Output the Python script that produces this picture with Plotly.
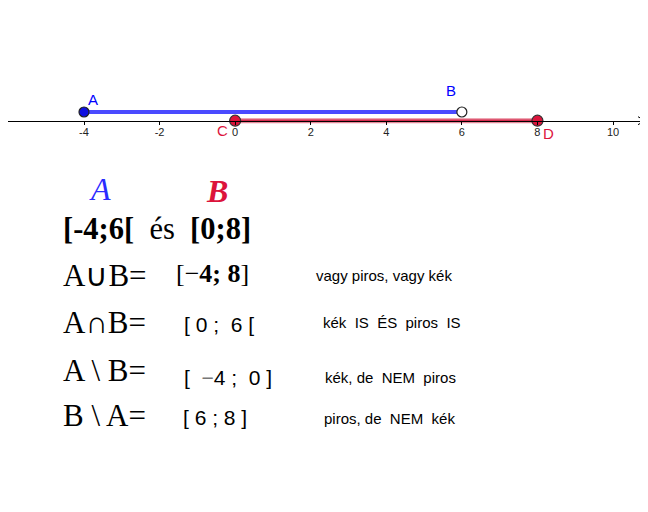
import plotly.graph_objects as go

# number line data
set_a = [-4, 6]          # [-4;6[  (blue)
set_b = [0, 8]           # [0;8]   (red)
point_names_a = ["A", "B"]
point_names_b = ["C", "D"]
tick_vals = [-4, -2, 0, 2, 4, 6, 8, 10]
tick_text = ["-4", "-2", "0", "2", "4", "6", "8", "10"]

# text rows below the line
row_left = ["A∪B=", "A∩B=", "A \\ B=", "B \\ A="]
row_result = ["[−<b>4; 8</b>]",
              "[ 0 ;\u00a0 6 [",
              "[\u00a0 <span style='color:#777'>−</span>4 ;\u00a0 0 ]",
              "[ 6 ; 8 ]"]
row_note = ["vagy piros, vagy kék",
            "kék\u00a0 IS\u00a0 ÉS\u00a0 piros\u00a0 IS",
            "kék, de\u00a0 NEM\u00a0 piros",
            "piros, de\u00a0 NEM\u00a0 kék"]

W, H = 648, 512
OFF = 8   # the page body adds an 8px margin, so shift everything back
BLUE = "#2b2bff"
RED = "#dc143c"
SERIF = "Liberation Serif"
SANS = "Liberation Sans"

# x scale from the reference: -4 -> px 84, 10 -> px 613
ppu = (613 - 84) / 14
x0 = -4 - (84 - OFF) / ppu
axis_py = 120.7 - OFF
y_top = axis_py / ppu
y_bot = -(H - axis_py) / ppu
a_level = 0.23

fig = go.Figure()

# segments
fig.add_trace(go.Scatter(x=set_a, y=[a_level] * 2, mode="lines",
                         line=dict(color="#4a4aff", width=4), hoverinfo="skip"))
fig.add_trace(go.Scatter(x=set_b, y=[0] * 2, mode="lines",
                         line=dict(color="#e8899a", width=5), hoverinfo="skip"))
fig.add_trace(go.Scatter(x=set_b, y=[0] * 2, mode="lines",
                         line=dict(color="#d42a4c", width=2.5), hoverinfo="skip"))

# end points
fig.add_trace(go.Scatter(x=set_a, y=[a_level] * 2, mode="markers",
                         marker=dict(size=10, color=["#1010e0", "white"],
                                     line=dict(color="#222", width=1.2)),
                         hoverinfo="skip"))
fig.add_trace(go.Scatter(x=set_b, y=[0] * 2, mode="markers",
                         marker=dict(size=11, color=RED, line=dict(color="#333", width=1.2)),
                         hoverinfo="skip"))

# arrow head at the right end of the axis
fig.add_shape(type="path", xref="x", yref="y", xsizemode="pixel", ysizemode="pixel",
              xanchor=x0 + (645 - OFF) / ppu, yanchor=0,
              path="M -7 -4 L 0 0 L -7 4", line=dict(color="black", width=1))

ann = []

# point labels, offset from their points in pixels
label_shift = {"A": (9, 13), "B": (-11, 22), "C": (-13, -10), "D": (11, -13)}
for names, xs, yv, col in [(point_names_a, set_a, a_level, "#0000ff"),
                           (point_names_b, set_b, 0, RED)]:
    for n, xv in zip(names, xs):
        dx, dy = label_shift[n]
        ann.append(dict(text=n, x=xv, y=yv, xref="x", yref="y", showarrow=False,
                        xshift=dx, yshift=dy,
                        font=dict(family=SANS, size=15, color=col)))


def add_text(text, x, y, size, family, color="black"):
    ann.append(dict(text=text, x=(x - OFF) / W, y=1 - (y - OFF) / H,
                    xref="paper", yref="paper",
                    xanchor="left", yanchor="middle", showarrow=False,
                    font=dict(family=family, size=size, color=color)))


add_text("<i>A</i>", 87, 189, 32, SERIF, BLUE)
add_text("<b><i>B</i></b>", 204, 191, 32, SERIF, RED)
add_text("<b>[-4;6[</b>\u00a0 és\u00a0 <b>[0;8]</b>", 61, 229, 30.5, SERIF)

left_y = [275, 322, 370, 415]
res_y = [273, 324, 377, 417]
res_x = [174, 182, 182, 181]
note_x = [314, 321, 323, 322]
note_y = [275, 322, 377, 418]
for i in range(4):
    add_text(row_left[i], 61, left_y[i], 31, SERIF)
    if i == 0:
        add_text(row_result[i], res_x[i], res_y[i], 26, SERIF)
    else:
        add_text(row_result[i], res_x[i], res_y[i], 21, SANS)
    add_text(row_note[i], note_x[i], note_y[i], 15, SANS)

fig.update_layout(
    width=W, height=H,
    margin=dict(l=0, r=0, t=0, b=0),
    paper_bgcolor="white", plot_bgcolor="white",
    showlegend=False,
    annotations=ann,
    xaxis=dict(range=[x0, x0 + W / ppu], anchor="free", position=1 - axis_py / H,
               showline=True, linecolor="black", linewidth=1,
               showgrid=False, zeroline=False,
               tickmode="array", tickvals=tick_vals, ticktext=tick_text,
               ticks="outside", ticklen=3, tickcolor="black",
               ticklabelstandoff=-2,
               tickfont=dict(family=SANS, size=11, color="#222")),
    yaxis=dict(range=[y_bot, y_top], visible=False),
)

fig.write_html("out.html")
